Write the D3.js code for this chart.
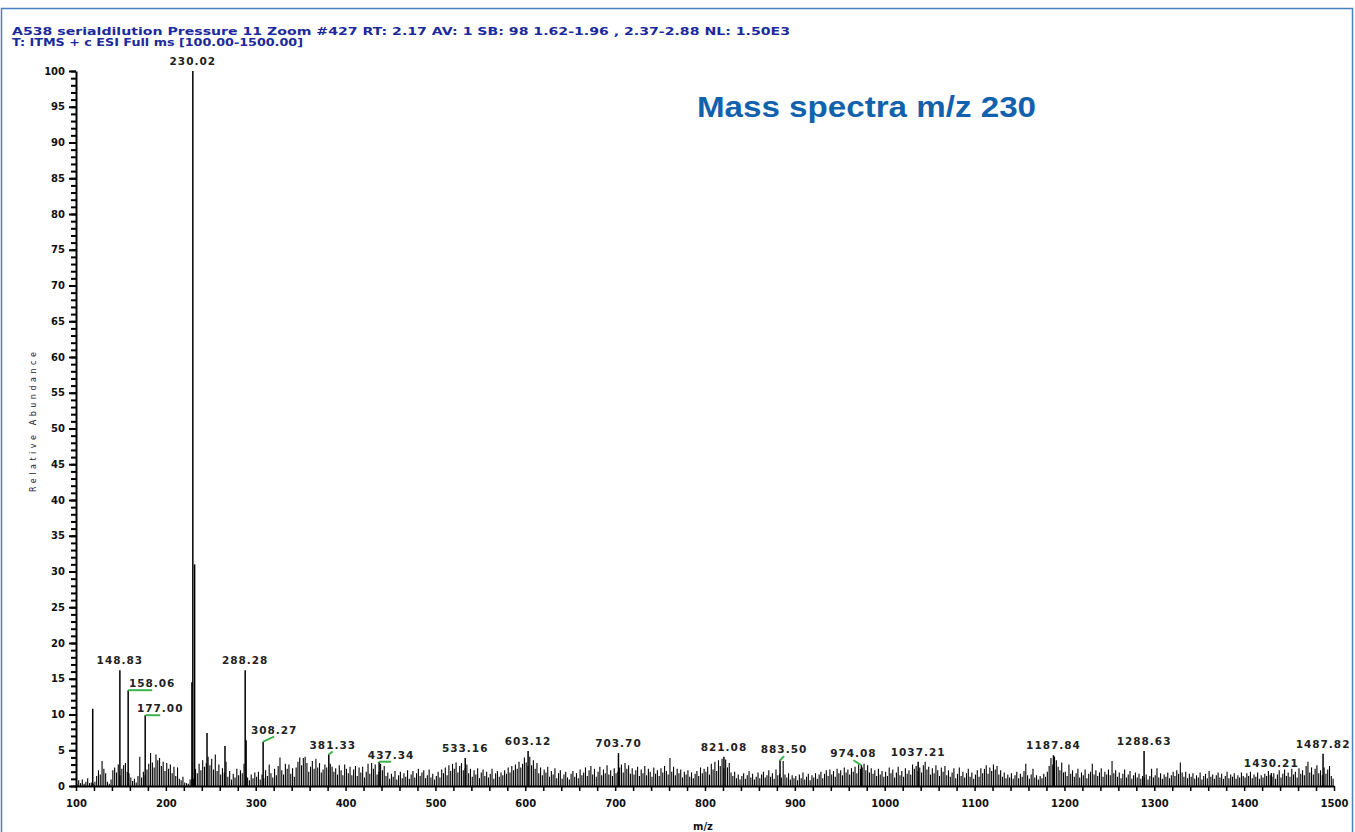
<!DOCTYPE html>
<html>
<head>
<meta charset="utf-8">
<script src="https://cdn.jsdelivr.net/npm/d3@7"></script>
<style>
  body { margin: 0; background: #fff; }
  .tick text { font-family: "DejaVu Sans", sans-serif; font-weight: bold; font-size: 10px; fill: #111; }
</style>
</head>
<body>
<script>
// labelled peaks (m/z, relative abundance %)
let labelMz  = [148.83, 158.06, 177.00, 230.02, 288.28, 308.27, 381.33, 437.34, 533.16, 603.12, 703.70, 821.08, 883.50, 974.08, 1037.21, 1187.84, 1288.63, 1430.21, 1487.82];
let labelInt = [16.2, 13.4, 9.9, 100, 16.2, 6.2, 4.4, 3.4, 3.9, 4.9, 4.6, 4.1, 3.6, 2.9, 3.4, 4.3, 4.9, 1.8, 4.5];
// label nudges in px, [dx, dy] from the peak top (0,0 = label sits right above)
let labelNudge = [[0,0],[24,0],[15,0],[0,0],[0,0],[11,-5],[4,-3],[12,0],[0,0],[0,0],[0,0],[0,0],[4,-4],[-8,-5],[0,0],[0,0],[0,0],[0,0],[0,0]];

// other tall peaks without labels
let bigMz  = [118.6, 229.0, 232.0, 245.8, 265.8, 289.3];
let bigInt = [10.8, 14.5, 31, 7.4, 5.6, 6.4];

// small peaks, every 2 m/z starting at the segment start (101, 201, ...)
let noise100 = [0.3,0.8,0.4,0.9,0.3,0.6,1.1,0.4,0.5,0.3,0.6,1.4,2.2,1.6,3.5,2.4,1.8,0.6,0.3,0.9,2.2,2.6,1.9,3.0,1.5,2.4,2.9,3.2,2.0,1.8,1.2,0.7,1.0,0.5,1.4,4.1,1.2,2.0,1.5,2.3,3.1,4.6,3.3,2.6,4.4,3.6,3.9,2.8,3.4,2.1];
let noise200 = [3.2,2.4,3.0,1.8,2.7,1.4,2.6,1.0,0.8,1.3,0.5,0.4,0.3,0.9,1.0,1.0,2.4,1.8,3.1,2.2,3.6,2.7,3.2,4.1,2.9,3.8,2.3,4.4,2.1,3.0,1.6,2.5,1.9,3.4,1.3,2.1,0.9,1.7,1.2,2.4,1.5,2.2,1.8,3.1,1.4,1.2,0.8,1.6,1.1,1.9];
let noise300 = [1.3,2.0,0.9,1.6,1.1,2.2,1.4,3.0,1.8,1.2,2.4,1.5,2.8,4.0,2.2,1.6,3.1,2.4,3.0,1.7,2.5,1.3,2.6,3.4,4.0,2.9,3.9,4.1,3.2,2.0,2.7,3.5,2.4,3.8,2.6,3.2,1.9,2.3,3.0,2.6,2.2,3.1,2.7,2.0,2.5,1.6,2.9,2.2,1.5,3.0];
let noise400 = [2.4,1.8,2.7,1.5,2.3,2.8,1.4,2.6,1.9,2.7,1.2,2.0,3.1,1.7,3.2,2.4,3.0,1.6,2.0,3.1,2.2,2.8,1.4,1.9,1.0,1.7,1.3,2.1,0.9,1.5,2.0,1.1,1.8,1.3,2.2,1.0,1.6,2.1,1.2,1.8,2.4,1.4,1.9,2.2,1.1,1.5,2.3,1.2,1.7,0.9];
let noise500 = [1.4,2.0,1.2,2.3,1.8,2.6,1.5,2.9,2.1,3.1,2.4,3.3,1.9,2.8,3.2,2.2,2.5,3.0,1.8,2.4,1.3,2.2,1.6,2.5,1.1,1.9,2.3,1.4,2.0,1.2,1.7,2.4,1.0,1.8,2.1,1.3,1.9,1.5,2.2,1.7,2.6,1.9,2.8,2.2,3.0,2.4,3.4,2.6,3.1,4.0];
let noise600 = [3.3,2.8,4.1,2.9,3.6,2.4,3.2,1.8,2.6,1.5,2.3,1.9,2.7,1.3,2.1,1.6,2.5,1.1,1.8,2.2,1.0,1.6,2.0,1.2,0.9,1.7,2.1,1.3,1.8,1.1,2.3,1.5,1.9,2.6,1.4,2.2,2.8,1.6,2.4,1.3,2.0,2.7,1.5,2.3,1.8,2.9,1.6,2.2,1.4,2.5];
let noise700 = [1.8,2.0,2.6,3.0,1.9,3.2,2.4,2.9,1.7,2.5,1.6,2.2,2.7,1.4,2.3,1.8,2.8,1.5,2.4,2.0,1.3,2.6,1.7,2.2,1.4,2.5,1.9,2.8,2.1,1.6,3.9,2.0,2.7,1.5,2.4,1.8,2.3,1.2,2.0,1.6,2.2,1.3,1.9,1.1,1.7,2.1,1.4,2.6,1.8,2.4];
let noise800 = [2.0,2.7,1.6,3.1,2.3,3.4,2.1,3.6,2.8,3.8,2.5,3.7,2.6,3.2,1.9,1.4,2.0,1.1,1.6,0.9,1.4,1.8,1.0,1.5,2.1,1.2,1.7,0.9,1.3,1.9,1.1,1.6,2.0,1.2,1.5,2.2,1.3,1.8,1.0,2.3,1.5,1.7,1.2,3.5,1.6,1.2,1.8,0.9,1.5,1.1];
let noise900 = [1.4,0.8,1.6,1.1,1.9,0.9,1.3,1.7,0.8,1.5,1.2,1.8,1.0,1.6,2.0,1.1,1.7,2.2,1.4,2.3,1.6,2.1,1.3,2.4,1.8,2.2,1.5,2.6,1.9,2.3,1.6,2.5,2.0,2.7,1.8,3.0,2.4,2.6,3.1,2.2,2.9,1.9,2.5,1.7,2.2,1.4,2.4,1.6,2.1,1.3];
let noise1000 = [2.0,1.4,2.6,1.8,2.3,1.2,1.9,2.7,1.5,2.1,1.3,2.5,1.7,2.2,1.6,3.0,2.4,2.8,2.1,2.6,1.9,2.9,3.4,2.3,2.7,1.6,2.5,1.8,2.9,2.2,1.4,2.6,2.0,2.8,1.5,2.2,1.3,1.9,2.5,1.1,1.7,2.6,1.4,2.0,1.2,1.8,2.4,1.3,1.9,1.0];
let noise1100 = [1.6,2.2,1.3,2.5,1.8,2.4,2.9,1.7,2.6,2.1,3.0,2.3,2.8,1.6,2.2,1.3,1.9,1.1,1.6,1.2,1.8,1.0,1.5,2.0,1.1,1.7,1.3,2.1,3.1,1.5,1.0,1.6,2.4,1.2,1.5,0.9,1.4,1.1,1.7,1.3,2.0,2.8,3.9,3.0,4.1,3.6,2.7,2.2,3.3,1.9];
let noise1200 = [2.0,1.4,3.0,1.7,2.2,1.3,1.8,2.4,1.2,1.9,1.5,2.3,1.1,1.7,2.0,3.1,1.6,2.2,1.4,1.9,2.5,1.3,2.0,1.6,2.3,1.5,3.5,1.8,2.2,1.3,1.9,1.1,1.7,2.3,1.2,1.6,2.1,1.0,1.5,1.9,1.2,1.7,1.0,1.4,1.2,1.6,0.9,1.4,2.4,1.2];
let noise1300 = [1.5,2.5,1.2,1.8,1.0,1.6,1.3,1.9,1.1,1.5,2.0,1.4,2.2,1.7,3.3,1.9,1.3,2.0,1.1,1.7,1.3,1.8,1.0,1.5,1.2,1.9,0.9,1.4,1.7,1.1,2.1,1.3,1.6,1.0,1.5,1.9,1.2,1.7,1.0,1.4,2.0,1.1,1.6,1.3,1.8,1.0,1.5,1.2,1.9,1.4];
let noise1400 = [1.2,1.8,1.4,2.0,1.1,1.6,1.3,1.9,1.0,1.5,1.2,1.7,1.4,2.1,1.5,1.3,1.8,1.0,1.6,2.2,1.2,1.7,2.3,1.4,1.9,1.3,2.4,1.6,2.0,1.2,2.5,1.7,2.2,1.5,2.8,3.4,1.9,2.6,1.6,2.4,2.9,1.8,2.2,1.5,2.6,1.7,2.3,2.8,1.4,1.0];

let noiseSegments = [noise100, noise200, noise300, noise400, noise500, noise600, noise700,
                     noise800, noise900, noise1000, noise1100, noise1200, noise1300, noise1400];
let segmentStart = [101, 201, 301, 401, 501, 601, 701, 801, 901, 1001, 1101, 1201, 1301, 1401];

let headerLines = [
    "A538 serialdilution Pressure 11 Zoom #427  RT: 2.17  AV: 1  SB: 98 1.62-1.96 , 2.37-2.88  NL: 1.50E3",
    "T: ITMS + c ESI Full ms [100.00-1500.00]"
];

// build peak list
let smallPeaks = [];
noiseSegments.forEach((seg, s) => {
    seg.forEach((v, i) => smallPeaks.push([segmentStart[s] + 2 * i, v]));
});
let bigPeaks = bigMz.map((m, i) => [m, bigInt[i]]);
let labelled = labelMz.map((m, i) => ({mz: m, int: labelInt[i], nudge: labelNudge[i]}));

var svg = d3.select("body").append("svg")
    .attr("width", 1355)
    .attr("height", 832);

// outer frame
svg.append("rect")
    .attr("x", 1.5).attr("y", 8.5)
    .attr("width", 1351).attr("height", 900)
    .attr("fill", "none")
    .attr("stroke", "#4a7fc1")
    .attr("stroke-width", 1.5);

var x = d3.scaleLinear().domain([100, 1500]).range([76, 1334]);
var y = d3.scaleLinear().domain([0, 100]).range([786, 71]);

// peaks
svg.append("g").selectAll("line")
    .data(smallPeaks)
    .enter().append("line")
    .attr("x1", d => x(d[0])).attr("x2", d => x(d[0]))
    .attr("y1", y(0)).attr("y2", d => y(d[1]))
    .attr("stroke", "#000")
    .attr("stroke-width", 1.1);

svg.append("g").selectAll("line")
    .data(bigPeaks.concat(labelled.map(d => [d.mz, d.int])))
    .enter().append("line")
    .attr("x1", d => x(d[0])).attr("x2", d => x(d[0]))
    .attr("y1", y(0)).attr("y2", d => y(d[1]))
    .attr("stroke", "#000")
    .attr("stroke-width", 1.5);

// Y axis: minor ticks every 1, labels every 5
svg.append("g")
    .attr("transform", "translate(76,0)")
    .call(d3.axisLeft(y).tickValues(d3.range(0, 101, 1)).tickSize(5).tickFormat(""))
    .call(g => g.select(".domain").remove())
    .selectAll("line").attr("stroke-width", 2);

var yMajor = svg.append("g")
    .attr("transform", "translate(76,0)")
    .call(d3.axisLeft(y).tickValues(d3.range(0, 101, 5)).tickSize(7).tickPadding(4).tickSizeOuter(0));
yMajor.select(".domain").attr("stroke-width", 2);
yMajor.selectAll("line").attr("stroke-width", 2);

// X axis
var xAxis = svg.append("g")
    .attr("transform", "translate(0," + y(0) + ")")
    .call(d3.axisBottom(x).tickValues(d3.range(100, 1501, 20)).tickSize(5).tickPadding(9).tickSizeOuter(0)
        .tickFormat(d => d % 100 === 0 ? d : ""));
xAxis.select(".domain").attr("stroke-width", 2);
xAxis.selectAll("line").attr("stroke-width", 1.5);

// peak labels
var lab = svg.append("g");
labelled.forEach(d => {
    let px = x(d.mz), py = y(d.int);
    let lx = px + d.nudge[0], ly = py + d.nudge[1];
    let moved = d.nudge[0] !== 0 || d.nudge[1] !== 0;
    if (moved) {
        lab.append("line")
            .attr("x1", px).attr("y1", py)
            .attr("x2", lx).attr("y2", ly)
            .attr("stroke", "#3cb44b")
            .attr("stroke-width", 2);
    }
    lab.append("text")
        .attr("x", lx)
        .attr("y", moved ? ly - 3 : ly - 6)
        .attr("text-anchor", "middle")
        .style("font-family", "DejaVu Sans")
        .style("font-weight", "bold")
        .style("font-size", "10.5px")
        .style("letter-spacing", "1px")
        .style("fill", "#222")
        .text(d.mz.toFixed(2));
});

// header
headerLines.forEach((t, i) => {
    svg.append("text")
        .attr("x", 12)
        .attr("y", 35 + i * 11)
        .attr("textLength", i === 0 ? 778 : 291)
        .attr("lengthAdjust", "spacingAndGlyphs")
        .style("font-family", "DejaVu Sans")
        .style("font-weight", "bold")
        .style("font-size", "11px")
        .style("fill", "#1b2a9c")
        .text(t);
});

// title
svg.append("text")
    .attr("x", 697)
    .attr("y", 117)
    .attr("textLength", 339)
    .attr("lengthAdjust", "spacingAndGlyphs")
    .style("font-family", "Liberation Sans, Arial, sans-serif")
    .style("font-weight", "bold")
    .style("font-size", "30px")
    .style("fill", "#1261ad")
    .text("Mass spectra m/z 230");

// axis titles
svg.append("text")
    .attr("transform", "translate(36,422) rotate(-90)")
    .attr("text-anchor", "middle")
    .attr("textLength", 140)
    .style("font-family", "DejaVu Sans")
    .style("font-size", "8px")
    .style("fill", "#222")
    .text("Relative Abundance");

svg.append("text")
    .attr("x", 703)
    .attr("y", 830)
    .attr("text-anchor", "middle")
    .style("font-family", "DejaVu Sans")
    .style("font-weight", "bold")
    .style("font-size", "10px")
    .style("fill", "#111")
    .text("m/z");
</script>
</body>
</html>
